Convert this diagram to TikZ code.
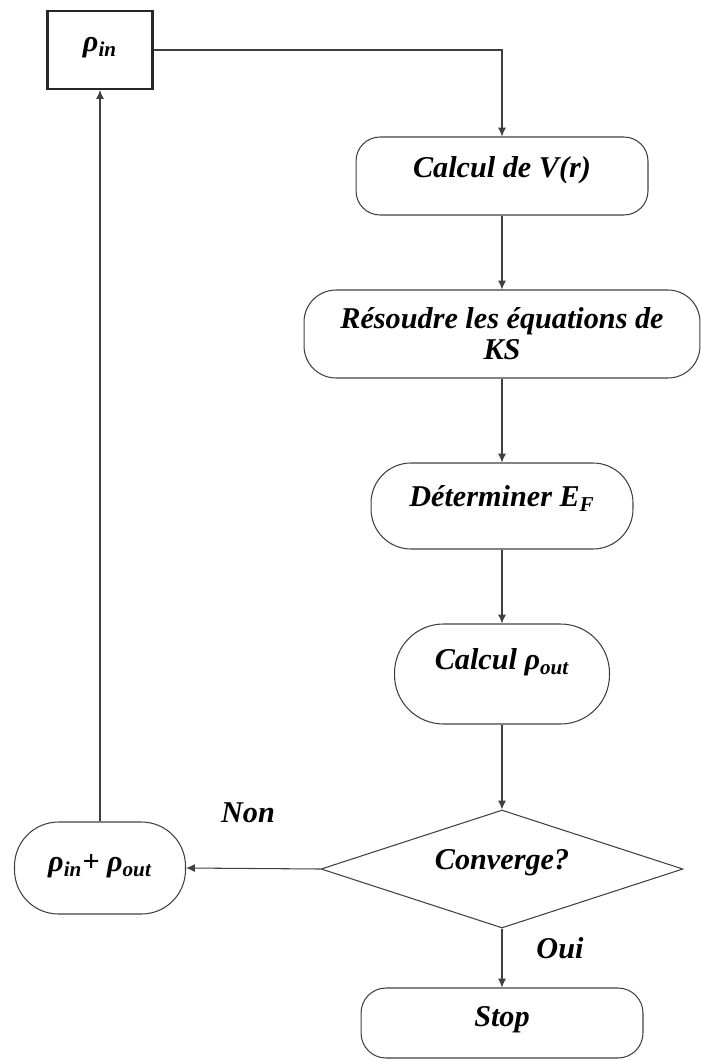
\documentclass[tikz,border=0pt]{standalone}
\usepackage{fontspec}
\setmainfont{Liberation Serif}
\usepackage{tikz}
\usetikzlibrary{shapes.geometric, arrows.meta, positioning}
\def\pix{0.02cm}
\newcommand{\fte}{\fontsize{17.2}{17.6}\selectfont\bfseries\itshape}
\tikzstyle{boite} = [rectangle, draw=black!85, line width=1.2pt, font=\fte, text height=12pt]
\tikzstyle{etape} = [rectangle, draw=black!75, line width=0.6pt, align=center, font=\fte]
\tikzstyle{decision} = [diamond, aspect=3, inner sep=0pt, draw=black!75, line width=0.6pt, font=\fte, text height=12pt]
\tikzstyle{etiquette} = [font=\fte]
\tikzstyle{fleche} = [draw=black!75, line width=0.6pt, -{Latex[length=5pt,width=4.5pt]}]

\begin{document}
\begin{tikzpicture}[x=\pix, y=-\pix]
        \useasboundingbox (0,0) rectangle (700,1061);
        % colonne de droite
        \node[boite, minimum width=2.1cm, minimum height=1.56cm, text depth=9.8pt] (rhoin) at (100,50) {ρ\textsubscript{in}};
        \node[etape, minimum width=5.84cm, minimum height=1.56cm, rounded corners=0.48cm,
              text height=12pt, text depth=9.8pt] (calcV) at (502,176) {Calcul de V(r)};
        \node[etape, minimum width=7.92cm, minimum height=1.76cm, rounded corners=0.64cm] (resoudre) at (502,334)
              {Résoudre les équations de\\KS};
        \node[etape, minimum width=5.24cm, minimum height=1.72cm, rounded corners=0.8cm,
              text height=12pt, text depth=10.9pt] (determiner) at (502,506) {Déterminer E\textsubscript{F}};
        \node[etape, minimum width=4.3cm, minimum height=2cm, rounded corners=0.98cm,
              text height=12pt, text depth=16.6pt] (calcrho) at (502,674) {Calcul ρ\textsubscript{out}};
        \node[decision, minimum width=7.24cm, minimum height=2.36cm, text depth=10.9pt] (converge) at (502,869) {Converge?};
        \node[etape, minimum width=5.64cm, minimum height=1.4cm, rounded corners=0.5cm,
              text height=12pt, text depth=7.5pt] (stop) at (502,1023) {Stop};
        % boucle
        \node[etape, minimum width=3.42cm, minimum height=1.84cm, rounded corners=0.88cm,
              text height=12pt, text depth=7.5pt] (rhosum) at (100,868) {ρ\textsubscript{in}+ ρ\textsubscript{out}};
        \node[etiquette] (non) at (248,813) {Non};
        \node[etiquette] (oui) at (560,948) {Oui};

        \draw[fleche] (rhoin.east) -| (calcV.north);
        \draw[fleche] (calcV) -- (resoudre);
        \draw[fleche] (resoudre) -- (determiner);
        \draw[fleche] (determiner) -- (calcrho);
        \draw[fleche] (calcrho) -- (converge);
        \draw[fleche] (converge) -- (stop);
        \draw[fleche] (converge.west) -- (rhosum.east);
        \draw[fleche] (rhosum) -- (rhoin);
      \end{tikzpicture}
\end{document}
